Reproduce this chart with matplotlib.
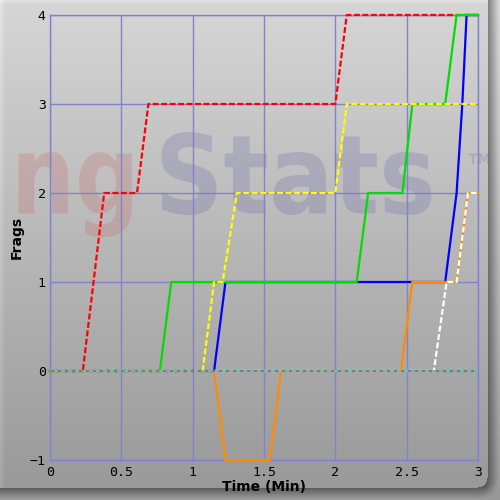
import numpy as np
import matplotlib
matplotlib.use('Agg')
import matplotlib.pyplot as plt
from matplotlib.textpath import TextPath
from matplotlib.patches import PathPatch
from matplotlib.font_manager import FontProperties
from matplotlib.transforms import Affine2D

plt.rcParams['lines.scale_dashes'] = False

# frag timelines (time in minutes, frags)
red_t = [0, 0.23, 0.38, 0.61, 0.69, 2.00, 2.08, 3.0]
red_f = [0, 0, 2, 2, 3, 3, 4, 4]
yellow_t = [0, 1.07, 1.15, 1.21, 1.31, 2.00, 2.08, 3.0]
yellow_f = [0, 0, 1, 1, 2, 2, 3, 3]
green_t = [0, 0.77, 0.85, 2.15, 2.23, 2.47, 2.54, 2.77, 2.85, 3.0]
green_f = [0, 0, 1, 1, 2, 2, 3, 3, 4, 4]
blue_t = [0, 1.15, 1.23, 2.77, 2.85, 2.89, 2.92, 3.0]
blue_f = [0, 0, 1, 1, 2, 3, 4, 4]
orange_t = [0, 1.15, 1.23, 1.54, 1.62, 2.46, 2.54, 2.85, 2.93, 3.0]
orange_f = [0, 0, -1, -1, 0, 0, 1, 1, 2, 2]
white_t = [0, 2.69, 2.78, 2.85, 2.93, 3.0]
white_f = [0, 0, 1, 1, 2, 2]
zero_t = [0, 3.0]
zero_f = [0, 0]

xticks = [0, 0.5, 1, 1.5, 2, 2.5, 3]
xticklabels = ['0', '0.5', '1', '1.5', '2', '2.5', '3']
yticks = [-1, 0, 1, 2, 3, 4]


def blur(a, r):
    k = np.ones(2 * r + 1) / (2 * r + 1)
    a = np.apply_along_axis(lambda v: np.convolve(np.pad(v, r, mode='edge'), k, 'valid'), 0, a)
    a = np.apply_along_axis(lambda v: np.convolve(np.pad(v, r, mode='edge'), k, 'valid'), 1, a)
    return a


# background panel with drop shadow
H = W = 500
yy, xx = np.mgrid[0:H, 0:W].astype(float)
base = 214 - (214 - 152) * yy / (H - 1)

def rrect(x0, y0, x1, y1, rad):
    cx = np.clip(xx, x0 + rad, x1 - rad)
    cy = np.clip(yy, y0 + rad, y1 - rad)
    return ((xx - cx) ** 2 + (yy - cy) ** 2 <= rad ** 2) & (xx >= x0) & (xx <= x1) & (yy >= y0) & (yy <= y1)

panel = rrect(-20, -20, 487, 487, 10)
shadow = blur(rrect(-20, -20, 492, 492, 10).astype(float), 5)
img = base * (1 - 0.42 * shadow)
img = np.where(panel, base, img)
img = img + 14 * np.clip(1 - xx / 5, 0, 1) * panel + 10 * np.clip(1 - yy / 4, 0, 1) * panel
img = np.clip(img, 0, 255) / 255.0
rgb = np.dstack([img, img, img])

fig = plt.figure(figsize=(5, 5), dpi=100)
bg = fig.add_axes([0, 0, 1, 1], zorder=-10)
bg.imshow(rgb, aspect='auto', interpolation='nearest')
bg.axis('off')

# watermark, drawn in pixel coords of the background
fp = FontProperties(family='DejaVu Sans', weight='bold')
def mark(s, left, base_y, cap_h, sx_fac, color):
    tp = TextPath((0, 0), s, size=100, prop=fp)
    ext = tp.get_extents()
    sy = cap_h / 72.9
    sx = sy * sx_fac
    tr = Affine2D().translate(-ext.x0, 0).scale(sx, -sy).translate(left, base_y)
    bg.add_patch(PathPatch(tr.transform_path(tp), fc=color, ec='none', alpha=0.2, zorder=2))

mark('ng', 18, 213, 80, 0.82, '#c85050')
mark('Stats', 161, 213, 80, 0.87, '#5050a0')
mark('TM', 468, 163, 10, 0.95, '#5050a0')

ax = fig.add_axes([0.1, 0.08, 0.856, 0.89])
ax.patch.set_alpha(0)

grid_c = '#8282cc'
lw = 1.6
ax.plot(blue_t, blue_f, color='#0000ff', lw=lw, clip_on=False, zorder=3)
ax.plot(orange_t, orange_f, color='#ff8c00', lw=lw, clip_on=False, zorder=4)
ax.plot(red_t, red_f, color='#ff0000', lw=lw, ls=(0, (4.3, 1.8)), clip_on=False, zorder=5)
ax.plot(green_t, green_f, color='#00dd00', lw=lw, clip_on=False, zorder=6)
ax.plot(yellow_t, yellow_f, color='#ffff00', lw=lw, ls=(0, (4.3, 1.8)), clip_on=False, zorder=7)
ax.plot(white_t, white_f, color='#ffffff', lw=lw, ls=(0, (4.3, 1.8)), clip_on=False, zorder=8)
ax.plot(zero_t, zero_f, color='#c85a5a', lw=lw, ls=(0, (2.9, 1.45)), clip_on=False,
        zorder=9, antialiased=False)
ax.plot(zero_t, zero_f, color='#40d0c0', lw=lw, ls=(1.45, (1.45, 2.9)), clip_on=False,
        zorder=9, antialiased=False)

ax.set_xlim(0, 3)
ax.set_ylim(-1, 4)
ax.set_xticks(xticks)
ax.set_xticklabels(xticklabels)
ax.set_yticks(yticks)
ax.grid(True, color=grid_c, lw=1)
ax.set_axisbelow(True)
for s in ax.spines.values():
    s.set_color(grid_c)
    s.set_linewidth(1)
ax.tick_params(length=0, labelsize=9.5, labelcolor='black')
ax.tick_params(axis='y', pad=3)
ax.tick_params(axis='x', pad=4)
for lab in ax.get_xticklabels() + ax.get_yticklabels():
    lab.set_family('DejaVu Sans Mono')

ax.set_xlabel('Time (Min)', fontsize=10, fontweight='bold', labelpad=1)
ax.set_ylabel('Frags', fontsize=10, fontweight='bold')
ax.yaxis.set_label_coords(-0.062, 0.5)

fig.savefig('out.png', dpi=100)
